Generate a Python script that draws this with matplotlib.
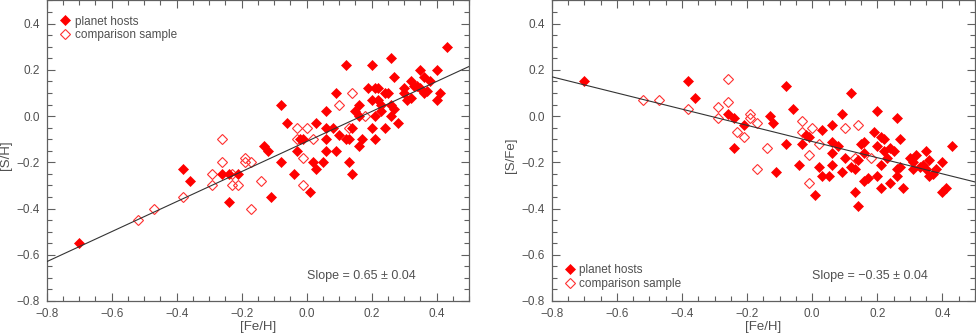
import numpy as np
import matplotlib
matplotlib.use("Agg")
import matplotlib.pyplot as plt
from matplotlib.ticker import MultipleLocator, FuncFormatter

# [Fe/H] vs [S/H], planet hosts
hosts_feh_l = [-0.70, -0.38, -0.36, -0.26, -0.24, -0.21, -0.24, -0.13, -0.12, -0.11,
               -0.08, -0.08, -0.06, -0.04, -0.03, -0.02, -0.01, 0.01, 0.02, 0.03,
               0.05, 0.03, 0.06, 0.06, 0.06, 0.06, 0.09, 0.09, 0.08, 0.10,
               0.12, 0.12, 0.13, 0.14, 0.13, 0.14, 0.16, 0.15, 0.16, 0.17,
               0.16, 0.19, 0.21, 0.22, 0.20, 0.20, 0.22, 0.21, 0.20, 0.21,
               0.23, 0.23, 0.24, 0.25, 0.26, 0.27, 0.26, 0.27, 0.26, 0.24,
               0.28, 0.30, 0.32, 0.33, 0.30, 0.31, 0.32, 0.35, 0.36, 0.35,
               0.37, 0.36, 0.38, 0.40, 0.41, 0.40, 0.43, 0.34]
hosts_sh = [-0.55, -0.23, -0.28, -0.25, -0.25, -0.25, -0.37, -0.13, -0.15, -0.35,
            0.05, -0.20, -0.03, -0.25, -0.15, -0.10, -0.10, -0.33, -0.20, -0.23,
            -0.20, -0.03, 0.02, -0.05, -0.10, -0.15, -0.15, 0.10, -0.05, -0.08,
            0.22, -0.10, -0.10, -0.05, -0.20, -0.25, 0.05, 0.02, 0.00, -0.10,
            -0.13, 0.12, 0.12, 0.12, 0.22, 0.07, 0.07, 0.00, -0.05, -0.10,
            0.05, 0.02, 0.10, 0.10, 0.25, 0.17, 0.05, 0.03, 0.00, -0.05,
            -0.03, 0.12, 0.15, 0.13, 0.10, 0.07, 0.08, 0.20, 0.17, 0.12,
            0.11, 0.10, 0.15, 0.20, 0.10, 0.07, 0.30, 0.13]

# [Fe/H] vs [S/H], comparison sample
comp_feh_l = [-0.52, -0.47, -0.38, -0.29, -0.29, -0.26, -0.26, -0.23, -0.21, -0.23,
              -0.19, -0.19, -0.17, -0.14, -0.17, -0.03, 0.00, -0.03, 0.02, -0.01,
              -0.01, 0.10, 0.14, 0.18, 0.13]
comp_sh = [-0.45, -0.40, -0.35, -0.25, -0.30, -0.10, -0.20, -0.30, -0.30, -0.25,
           -0.18, -0.20, -0.20, -0.28, -0.40, -0.05, -0.05, -0.10, -0.10, -0.18,
           -0.30, 0.05, 0.10, 0.00, -0.05]

# [Fe/H] vs [S/Fe], planet hosts
hosts_feh_r = [-0.70, -0.38, -0.36, -0.26, -0.24, -0.21, -0.24, -0.13, -0.12, -0.11,
               -0.08, -0.06, -0.08, -0.02, -0.01, -0.03, -0.04, 0.01, 0.03, 0.02,
               0.03, 0.05, 0.06, 0.06, 0.06, 0.06, 0.08, 0.09, 0.09, 0.10,
               0.12, 0.12, 0.13, 0.13, 0.14, 0.14, 0.15, 0.16, 0.16, 0.16,
               0.17, 0.19, 0.20, 0.20, 0.21, 0.22, 0.20, 0.21, 0.21, 0.22,
               0.23, 0.24, 0.25, 0.24, 0.26, 0.27, 0.26, 0.27, 0.26, 0.28,
               0.30, 0.31, 0.32, 0.31, 0.33, 0.34, 0.35, 0.36, 0.35, 0.36,
               0.37, 0.38, 0.40, 0.40, 0.41, 0.43]
hosts_sfe = [0.15, 0.15, 0.08, 0.01, -0.01, -0.04, -0.14, 0.00, -0.03, -0.24,
             0.13, 0.03, -0.12, -0.08, -0.09, -0.12, -0.21, -0.34, -0.06, -0.22,
             -0.26, -0.26, -0.04, -0.11, -0.16, -0.21, -0.13, 0.01, -0.24, -0.18,
             0.10, -0.22, -0.23, -0.33, -0.39, -0.19, -0.12, -0.11, -0.16, -0.28,
             -0.27, -0.07, -0.13, 0.02, -0.09, -0.10, -0.26, -0.21, -0.31, -0.15,
             -0.18, -0.14, -0.15, -0.29, -0.01, -0.10, -0.23, -0.22, -0.26, -0.31,
             -0.18, -0.20, -0.17, -0.23, -0.22, -0.21, -0.15, -0.19, -0.23, -0.26,
             -0.25, -0.23, -0.20, -0.33, -0.31, -0.13]

# [Fe/H] vs [S/Fe], comparison sample
comp_feh_r = [-0.52, -0.47, -0.38, -0.29, -0.29, -0.26, -0.26, -0.23, -0.21, -0.19,
              -0.19, -0.17, -0.14, -0.17, -0.03, -0.03, 0.00, 0.02, -0.01, -0.01,
              0.10, 0.14, 0.13, 0.18]
comp_sfe = [0.07, 0.07, 0.03, 0.04, -0.01, 0.16, 0.06, -0.07, -0.09, 0.01,
            -0.01, -0.03, -0.14, -0.23, -0.02, -0.07, -0.05, -0.12, -0.17, -0.29,
            -0.05, -0.04, -0.18, -0.18]

# fitted lines (slope, intercept)
fit_l = (0.65, -0.11)
fit_r = (-0.35, -0.11)
slope_l = "Slope = 0.65 \u00b1 0.04"
slope_r = "Slope = \u22120.35 \u00b1 0.04"

plt.rcParams['font.family'] = ['Liberation Sans', 'DejaVu Sans']
plt.rcParams['font.size'] = 8.5

grey = '#606060'
txt = '#505050'

fig = plt.figure(figsize=(9.76, 3.33), dpi=100)
ax1 = fig.add_axes([0.0478, 0.0961, 0.4330, 0.9024])
ax2 = fig.add_axes([0.5653, 0.0961, 0.4337, 0.9024])

fmt = FuncFormatter(lambda v, p: ('%.1f' % v).replace('-', '\u2212'))


def panel(ax, hx, hy, cx, cy, fit, ylabel, slope_txt, leg_loc):
    ax.plot(hx, hy, 'D', color='red', ms=5.6, mec='red', mew=0.5, ls='none',
            label='planet hosts', zorder=3)
    ax.plot(cx, cy, 'D', mfc='none', mec='#ff3030', ms=4.8, mew=0.8, ls='none',
            label='comparison sample', zorder=2)
    xx = np.array([-0.8, 0.5])
    ax.plot(xx, fit[0] * xx + fit[1], color='#333333', lw=0.8, zorder=4)

    ax.set_xlim(-0.8, 0.5)
    ax.set_ylim(-0.8, 0.5)
    ax.xaxis.set_major_locator(MultipleLocator(0.2))
    ax.yaxis.set_major_locator(MultipleLocator(0.2))
    ax.xaxis.set_minor_locator(MultipleLocator(0.05))
    ax.yaxis.set_minor_locator(MultipleLocator(0.05))
    ax.xaxis.set_major_formatter(fmt)
    ax.yaxis.set_major_formatter(fmt)
    ax.tick_params(which='both', direction='in', top=True, right=True,
                   color=grey, labelcolor=txt, width=0.8)
    ax.tick_params(which='major', length=6, pad=5)
    ax.tick_params(which='minor', length=3.5)
    for s in ax.spines.values():
        s.set_color(grey)
        s.set_linewidth(0.9)

    ax.set_xlabel('[Fe/H]', color=txt, fontsize=9.5, labelpad=1)
    ax.set_ylabel(ylabel, color=txt, fontsize=9.5)
    ax.yaxis.set_label_coords(-0.081, 0.485)
    ax.text(0.615, 0.082, slope_txt, transform=ax.transAxes, ha='left',
            va='center', color=txt, fontsize=9)
    leg = ax.legend(loc=leg_loc[0], bbox_to_anchor=leg_loc[1], frameon=False,
                    handlelength=0.6, handletextpad=0.5, labelspacing=0.15,
                    borderaxespad=0, borderpad=0)
    for t in leg.get_texts():
        t.set_color(txt)


panel(ax1, hosts_feh_l, hosts_sh, comp_feh_l, comp_sh, fit_l, '[S/H]', slope_l,
      ('upper left', (0.036, 0.95)))
panel(ax2, hosts_feh_r, hosts_sfe, comp_feh_r, comp_sfe, fit_r, '[S/Fe]', slope_r,
      ('lower left', (0.034, 0.036)))

fig.savefig('out.png', dpi=100)
